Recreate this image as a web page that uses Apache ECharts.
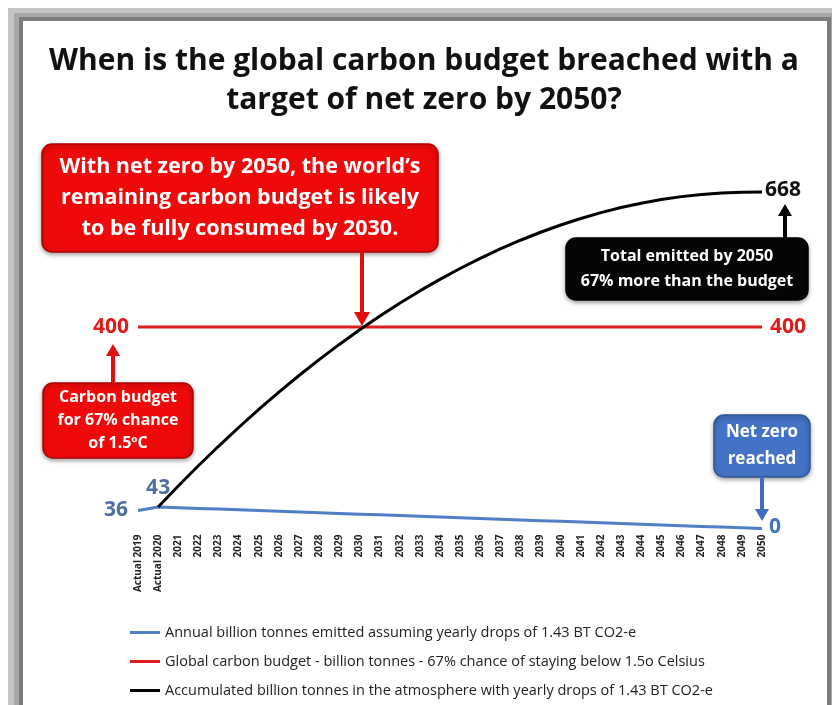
<!DOCTYPE html>
<html>
<head>
<meta charset="utf-8">
<script src="https://cdn.jsdelivr.net/npm/echarts@6/dist/echarts.min.js"></script>
<style>html,body{margin:0;padding:0;background:#fff}#c{width:832px;height:705px}</style>
</head>
<body>
<div id="c"></div>
<script>
const categories = ['Actual 2019','Actual 2020','2021','2022','2023','2024','2025','2026','2027','2028','2029','2030','2031','2032','2033','2034','2035','2036','2037','2038','2039','2040','2041','2042','2043','2044','2045','2046','2047','2048','2049','2050'];
const annualEmissions = [36, 43, 41.57, 40.14, 38.71, 37.28, 35.85, 34.42, 32.99, 31.56, 30.13, 28.70, 27.27, 25.84, 24.41, 22.98, 21.55, 20.12, 18.69, 17.26, 15.83, 14.40, 12.97, 11.54, 10.11, 8.68, 7.25, 5.82, 4.39, 2.96, 1.53, 0];
const carbonBudget = [400, 400, 400, 400, 400, 400, 400, 400, 400, 400, 400, 400, 400, 400, 400, 400, 400, 400, 400, 400, 400, 400, 400, 400, 400, 400, 400, 400, 400, 400, 400, 400];
const accumulated = [null, 43, 84.57, 124.71, 163.42, 200.70, 236.55, 270.97, 303.96, 335.52, 365.65, 394.35, 421.62, 447.46, 471.87, 494.85, 516.40, 536.52, 555.21, 572.47, 588.30, 602.70, 615.67, 627.21, 637.32, 646.00, 653.25, 659.07, 663.46, 666.42, 667.95, 668];
const seriesNames = [
  'Annual billion tonnes emitted assuming yearly drops of 1.43 BT CO2-e',
  'Global carbon budget - billion tonnes - 67% chance of staying below 1.5o Celsius',
  'Accumulated billion tonnes in the atmosphere with yearly drops of 1.43 BT CO2-e'
];

const FONT = 'Open Sans';
const last = categories.length - 1;

function withLabels(arr, labels) {
  return arr.map((v, i) => labels[i] ? { value: v, label: Object.assign({ show: true }, labels[i]) } : v);
}
const lbl = (extra) => Object.assign({ fontSize: 21, fontWeight: 'bold', fontFamily: FONT, formatter: p => Math.round(p.value) }, extra);

const blueData = withLabels(annualEmissions, {
  0: lbl({ position: 'left', distance: 10, color: '#4f6f9f' }),
  1: lbl({ position: 'top', distance: 8, color: '#4f6f9f' }),
  [last]: lbl({ position: 'right', distance: 7, offset: [0, -2], color: '#4472c4' })
});
const redData = withLabels(carbonBudget, {
  0: lbl({ position: 'left', distance: 9, color: '#e01b1b' }),
  [last]: lbl({ position: 'right', distance: 8, color: '#e01b1b' })
});
const blackData = withLabels(accumulated, {
  [last]: lbl({ position: 'right', distance: 3, offset: [0, -2], color: '#111' })
});

function arrow(x, y1, y2, color, w, hw, hl) {
  const dir = y2 > y1 ? 1 : -1;
  const baseY = y2 - dir * hl;
  return [
    { type: 'line', z: 100, shape: { x1: x, y1: y1, x2: x, y2: baseY }, style: { stroke: color, lineWidth: w } },
    { type: 'polygon', z: 100, shape: { points: [[x - hw, baseY], [x + hw, baseY], [x, y2]] }, style: { fill: color } }
  ];
}
function box(x, y, w, h, fill, stroke, lines, fontSize, lineH) {
  const els = [{ type: 'rect', z: 100, shape: { x: x, y: y, width: w, height: h, r: 10 },
    style: { fill: fill, stroke: stroke, lineWidth: 1.5, shadowBlur: 4, shadowColor: 'rgba(0,0,0,0.35)', shadowOffsetY: 2 } }];
  const cy = y + h / 2;
  lines.forEach((t, i) => {
    els.push({ type: 'text', z: 101, x: x + w / 2, y: cy + (i - (lines.length - 1) / 2) * lineH,
      style: { text: t, fill: '#fff', font: 'bold ' + fontSize + 'px "' + FONT + '"', textAlign: 'center', textVerticalAlign: 'middle' } });
  });
  return els;
}

const graphics = [
  { type: 'rect', z: -10, shape: { x: 8, y: 8, width: 824, height: 700 }, style: { fill: '#c4c4c4' } },
  { type: 'rect', z: -9, shape: { x: 14, y: 13, width: 818, height: 700 }, style: { fill: '#a8a8a8' } },
  { type: 'rect', z: -8, shape: { x: 19, y: 17, width: 812, height: 700 }, style: { fill: '#7c7c7c' } },
  { type: 'rect', z: -7, shape: { x: 23, y: 21, width: 804, height: 700 }, style: { fill: '#ffffff' } },
  { type: 'text', z: 50, x: 424, y: 61, style: { text: 'When is the global carbon budget breached with a', fill: '#111', font: 'bold 30px "' + FONT + '"', textAlign: 'center', textVerticalAlign: 'middle' } },
  { type: 'text', z: 50, x: 424, y: 100, style: { text: 'target of net zero by 2050?', fill: '#111', font: 'bold 30px "' + FONT + '"', textAlign: 'center', textVerticalAlign: 'middle' } }
].concat(
  box(42, 144, 396, 108, '#ee0a0a', '#b00000', ['With net zero by 2050, the world\u2019s', 'remaining carbon budget is likely', 'to be fully consumed by 2030.'], 21.5, 31),
  arrow(362, 252, 326, '#e01010', 4, 8, 14),
  box(43, 383, 150, 75, '#ee0a0a', '#b00000', ['Carbon budget', 'for 67% chance', 'of 1.5\u00baC'], 16, 23),
  arrow(113, 383, 344, '#e01010', 4, 7, 12),
  box(566, 238, 242, 62, '#050505', '#000', ['Total emitted by 2050', '67% more than the budget'], 16, 25),
  arrow(785, 238, 204, '#050505', 4, 7, 12),
  box(714, 415, 96, 62, '#4472c4', '#2f5597', ['Net zero', 'reached'], 17, 27),
  arrow(762, 477, 521, '#3f6cbf', 4, 7, 12)
);

const chart = echarts.init(document.getElementById('c'), null, { renderer: 'canvas' });
chart.setOption({
  animation: false,
  backgroundColor: '#ffffff',
  grid: { left: 138, right: 70, top: 176, bottom: 176.4, containLabel: false },
  xAxis: {
    type: 'category', data: categories, boundaryGap: false,
    axisLine: { show: false }, axisTick: { show: false },
    axisLabel: { rotate: 90, interval: 0, fontSize: 10, fontWeight: 'bold', color: '#222', fontFamily: FONT, margin: 6 }
  },
  yAxis: { type: 'value', min: 0, max: 700, show: false, splitLine: { show: false } },
  legend: {
    orient: 'vertical', left: 130, top: 623, padding: 0, itemGap: 10, itemWidth: 30, itemHeight: 3, icon: 'rect',
    textStyle: { fontSize: 14.5, color: '#222', fontFamily: FONT, lineHeight: 19 },
    data: seriesNames
  },
  graphic: graphics,
  series: [
    { name: seriesNames[0], type: 'line', data: blueData, symbol: 'circle', symbolSize: 0, lineStyle: { color: '#4f7fc4', width: 3 }, itemStyle: { color: '#4f7fc4' } },
    { name: seriesNames[1], type: 'line', data: redData, symbol: 'circle', symbolSize: 0, lineStyle: { color: '#e01b1b', width: 3 }, itemStyle: { color: '#e01b1b' } },
    { name: seriesNames[2], type: 'line', data: blackData, symbol: 'circle', symbolSize: 0, lineStyle: { color: '#000', width: 3 }, itemStyle: { color: '#000' } }
  ]
});
</script>
</body>
</html>
